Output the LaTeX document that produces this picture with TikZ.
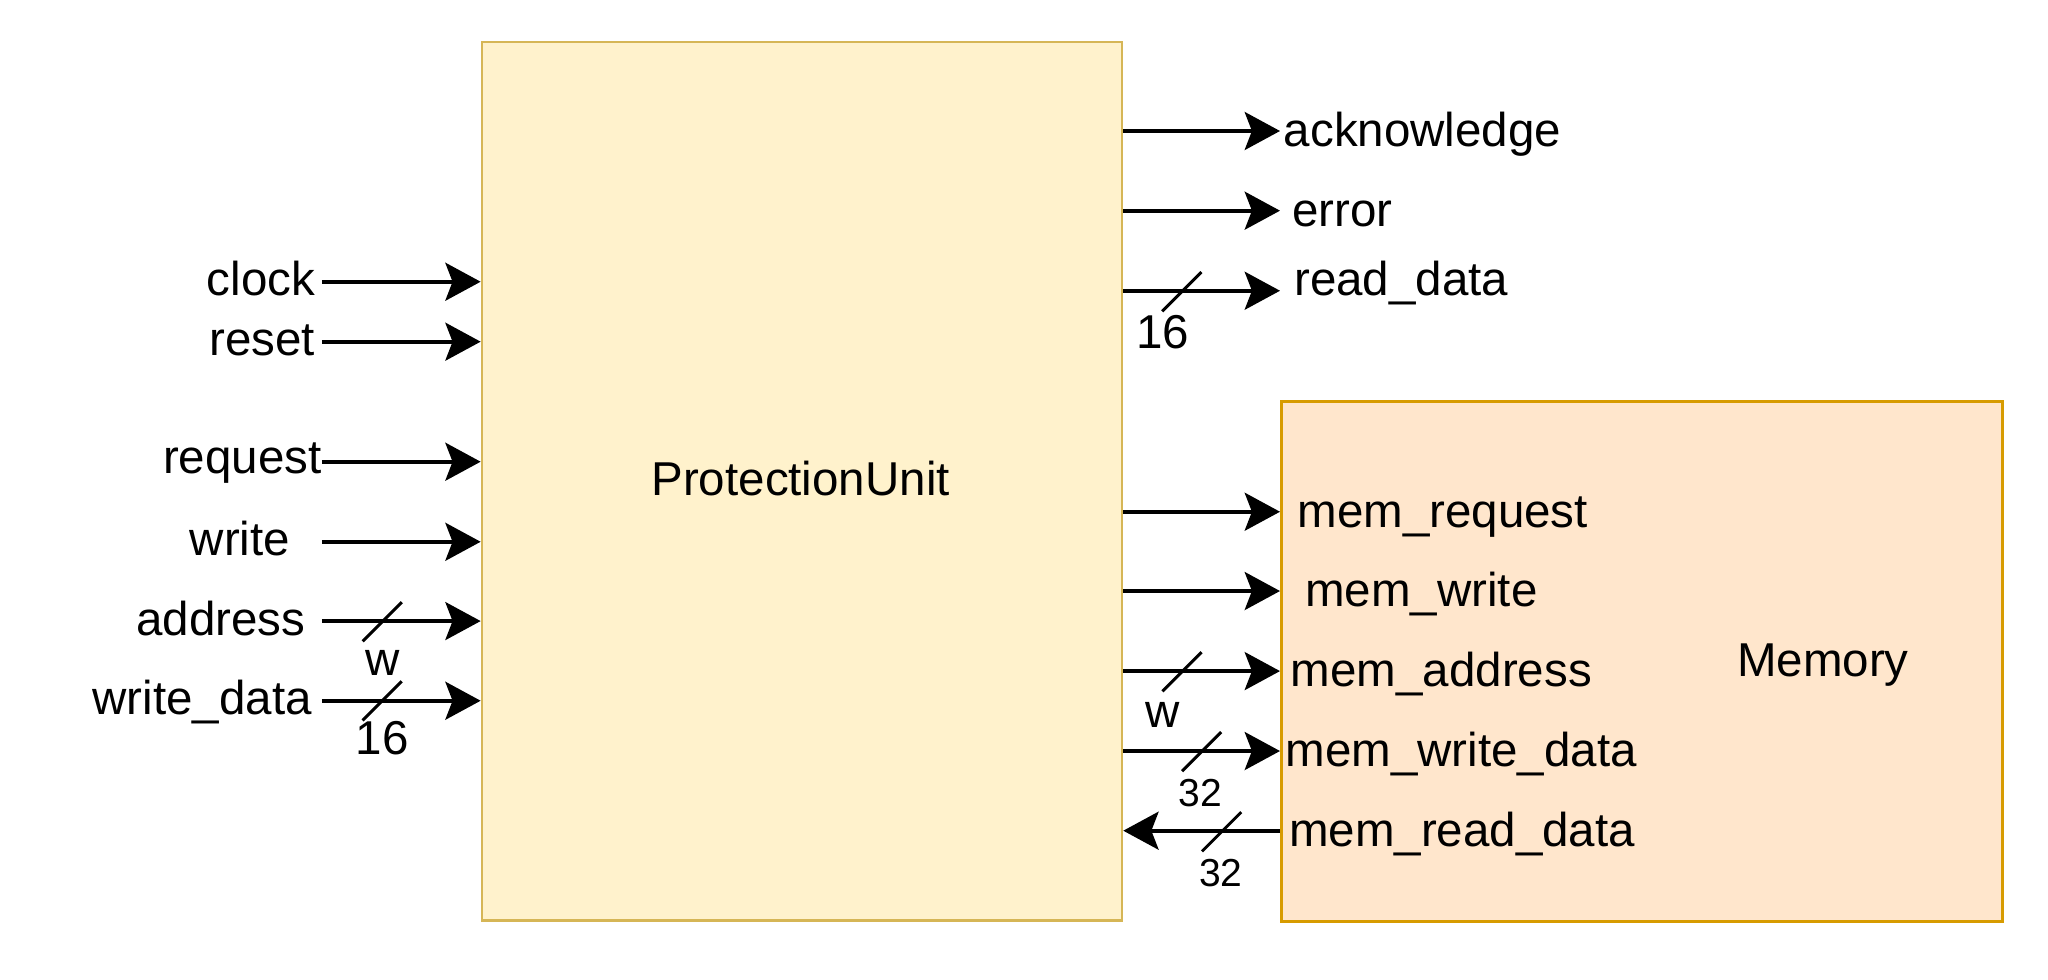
\documentclass[tikz,border=0pt]{standalone}
\usepackage{fontspec}
\setmainfont{Liberation Sans}
\usetikzlibrary{arrows.meta}

\definecolor{pufill}{HTML}{FFF2CC}
\definecolor{pudraw}{HTML}{D6B656}
\definecolor{memfill}{HTML}{FFE6CC}
\definecolor{memdraw}{HTML}{D79B00}

\begin{document}
\begin{tikzpicture}[x=0.02cm, y=-0.02cm,
		every node/.style={font=\fontsize{20.7}{24}\selectfont, inner sep=0pt},
		sig/.style={line width=1.7pt, -{Stealth[length=0.54cm, width=0.58cm, inset=0.11cm]}},
		bus/.style={line width=1.3pt},
		small/.style={font=\fontsize{17}{20}\selectfont}]
		
		% Fix the page size
		\useasboundingbox (0,0) rectangle (1568,750.3);
		
		% Draw the two blocks
		\node[draw=pudraw, fill=pufill, line width=1.2pt, minimum width=9.8cm, minimum height=13.46cm] (pu) at (614,368.5) {};
		\node[anchor=base] (pulbl) at (613,379) {ProtectionUnit};
		\node[draw=memdraw, fill=memfill, line width=1.2pt, minimum width=11.04cm, minimum height=7.96cm] (mem) at (1257,506.5) {};
		\node[anchor=base] (memlbl) at (1395.7,518) {Memory};
		
		% Inputs of the protection unit
		\foreach \y/\xr/\bl/\txt [count=\i] in {215.7/241.5/225.9/clock, 261.6/241.5/271.8/reset, 353.5/246.5/362.4/request, 414.8/222.5/425/write, 475.5/234/486.2/address, 536.5/239/547.4/write\_data} {
				\node[anchor=base east] (inlbl\i) at (\xr,\bl) {\txt};
				\coordinate (in\i) at (246.5,\y);
				\draw[sig] (in\i) -- (in\i -| pu.west);
			}
		
		% Outputs of the protection unit
		\foreach \y/\xl/\bl/\txt [count=\i] in {100.3/982.6/112.3/acknowledge, 161.3/989/173.6/error, 222.6/990.6/225.9/read\_data} {
				\node[anchor=base west] (outlbl\i) at (\xl,\bl) {\txt};
				\coordinate (out\i) at (980,\y);
				\draw[sig] (out\i -| pu.east) -- (out\i);
			}
		
		% Signals to the memory
		\foreach \y/\xl/\bl/\txt [count=\i] in {391.8/993/403.8/mem\_request, 452.5/999/464.5/mem\_write, 513.8/988/525.8/mem\_address, 575/984/587/mem\_write\_data} {
				\node[anchor=base west] (memlbl\i) at (\xl,\bl) {\txt};
				\coordinate (mem\i) at (0,\y);
				\draw[sig] (mem\i -| pu.east) -- (mem\i -| mem.west);
			}
		
		% Read data back from the memory
		\node[anchor=base west] (memlbl5) at (986.6,648.3) {mem\_read\_data};
		\coordinate (mem5) at (0,636);
		\draw[sig] (mem5 -| mem.west) -- (mem5 -| pu.east);
		
		% Bus width marks
		\foreach \x/\y in {292.6/476, 292.6/536.6, 904.8/223.3, 905/514.3, 920/575.5, 935.3/636.8} {
				\draw[bus] (\x-15,\y+15) -- (\x+15,\y-15);
			}
		\node[anchor=base] (wa) at (292.6,516.8) {w};
		\node[anchor=base] (wd) at (292.6,578) {16};
		\node[anchor=base] (rd) at (890,266.6) {16};
		\node[anchor=base] (mwa) at (890,556.7) {w};
		\node[anchor=base, small] (mwd) at (919,617.6) {32};
		\node[anchor=base, small] (mrd) at (934.8,679) {32};
		
	\end{tikzpicture}
\end{document}
